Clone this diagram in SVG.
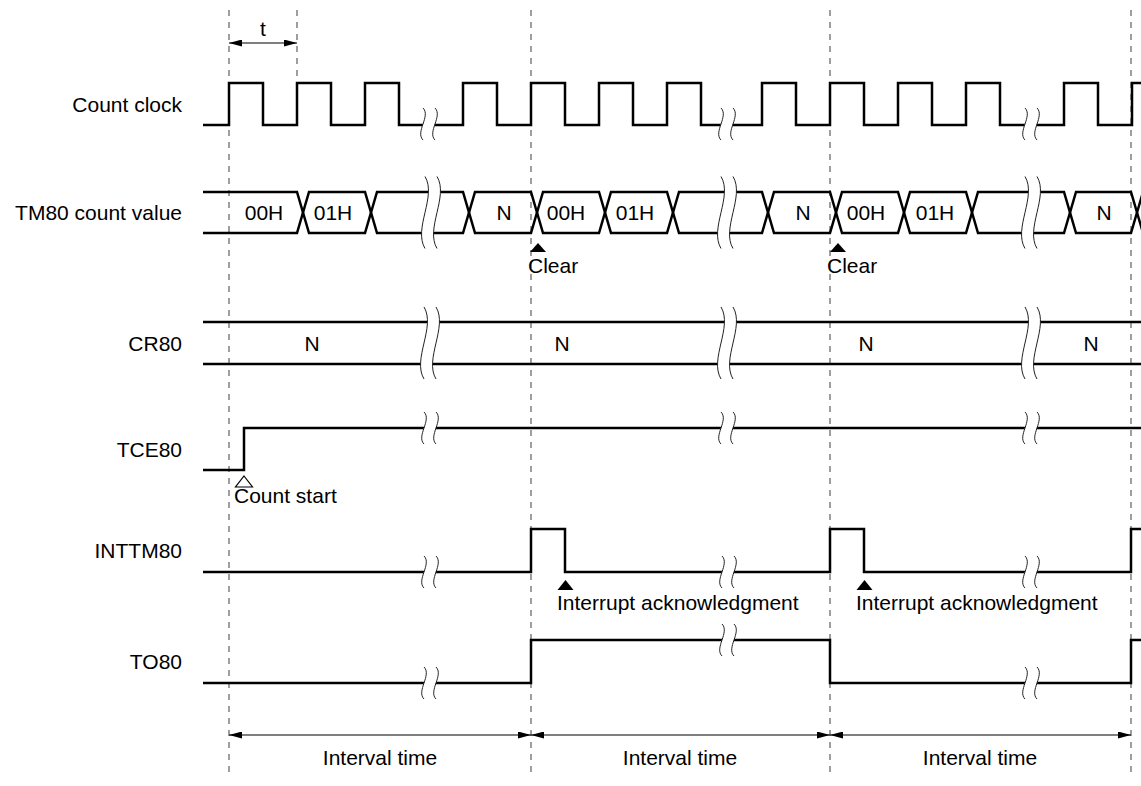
<svg xmlns="http://www.w3.org/2000/svg" xmlns:xlink="http://www.w3.org/1999/xlink" width="1141" height="786" viewBox="0 0 1141 786">
<style>
text{font-family:"Liberation Sans",Arial,Helvetica,sans-serif;font-size:21px;fill:#000}
.lbl{text-anchor:end}
.mid{text-anchor:middle}
.sig{fill:none;stroke:#000;stroke-width:2.5;stroke-linejoin:miter}
.dash{stroke:#6a6a6a;stroke-width:1.3;stroke-dasharray:6,6;fill:none}
.dim{stroke:#000;stroke-width:1.2;fill:none;marker-start:url(#ah);marker-end:url(#ah)}
.brkfill{fill:#fff;stroke:none}
.brkline{fill:none;stroke:#222;stroke-width:1}
.tri{fill:#000}
.otri{fill:#fff;stroke:#000;stroke-width:1.2}
</style>
<defs>
<marker id="ah" viewBox="0 0 13 7" refX="13" refY="3.5" markerWidth="13" markerHeight="7" markerUnits="userSpaceOnUse" orient="auto-start-reverse">
<path d="M0,0 L13,3.5 L0,7 Z" fill="#000"/>
</marker>
<g id="brkS">
<path class="brkfill" d="M-6,-16 C2,-8 -14,8 -6,16 L6,16 C-2,8 14,-8 6,-16 Z"/>
<path class="brkline" d="M-6,-16 C2,-8 -14,8 -6,16 M6,-16 C14,-8 -2,8 6,16"/>
</g>
<g id="brkL">
<path class="brkfill" d="M-6,-36 C6,-16 -18,16 -6,36 L6,36 C-6,16 18,-16 6,-36 Z"/>
<path class="brkline" d="M-6,-36 C6,-16 -18,16 -6,36 M6,-36 C18,-16 -6,16 6,36"/>
</g>
</defs>
<rect width="1141" height="786" fill="#fff"/>

<g id="connectors">
<line class="dash" x1="229" y1="10" x2="229" y2="775"/>
<line class="dash" x1="297" y1="10" x2="297" y2="82"/>
<line class="dash" x1="531" y1="10" x2="531" y2="775"/>
<line class="dash" x1="830" y1="10" x2="830" y2="775"/>
<line class="dash" x1="1131" y1="10" x2="1131" y2="775"/>
<line class="dim" x1="229" y1="43" x2="297" y2="43"/>
<line class="dim" x1="229" y1="735" x2="531" y2="735"/>
<line class="dim" x1="531" y1="735" x2="830" y2="735"/>
<line class="dim" x1="830" y1="735" x2="1131" y2="735"/>
</g>

<g id="dim-labels">
<text class="mid" x="263" y="36">t</text>
<text class="mid" x="380" y="765">Interval time</text>
<text class="mid" x="680" y="765">Interval time</text>
<text class="mid" x="980" y="765">Interval time</text>
</g>

<g id="count-clock">
<text class="lbl" x="182" y="111.5">Count clock</text>
<path class="sig" d="M203,125 H229 V83 H263 V125 H297 V83 H331 V125 H365 V83 H399 V125 H463 V83 H497 V125 H531 V83 H565 V125 H599 V83 H633 V125 H667 V83 H701 V125 H762 V83 H796 V125 H830 V83 H864 V125 H898 V83 H932 V125 H966 V83 H1000 V125 H1064 V83 H1098 V125 H1132 V83 H1143"/>
<use xlink:href="#brkS" x="429" y="124"/>
<use xlink:href="#brkS" x="727" y="124"/>
<use xlink:href="#brkS" x="1031" y="124"/>
</g>

<g id="tm80-count-value">
<text class="lbl" x="182" y="220">TM80 count value</text>
<path class="sig" d="M203,192 H297 L309,233 H365 L377,192 H463 L475,233 H531 L543,192 H599 L611,233 H667 L679,192 H762 L774,233 H830 L842,192 H898 L910,233 H966 L978,192 H1064 L1076,233 H1131 L1143,192"/>
<path class="sig" d="M203,233 H297 L309,192 H365 L377,233 H463 L475,192 H531 L543,233 H599 L611,192 H667 L679,233 H762 L774,192 H830 L842,233 H898 L910,192 H966 L978,233 H1064 L1076,192 H1131 L1143,233"/>
<use xlink:href="#brkL" x="431" y="212.5"/>
<use xlink:href="#brkL" x="727" y="212.5"/>
<use xlink:href="#brkL" x="1031" y="212.5"/>
<text class="mid" x="264" y="220">00H</text>
<text class="mid" x="333" y="220">01H</text>
<text class="mid" x="504" y="220">N</text>
<text class="mid" x="566" y="220">00H</text>
<text class="mid" x="635" y="220">01H</text>
<text class="mid" x="803" y="220">N</text>
<text class="mid" x="866" y="220">00H</text>
<text class="mid" x="935" y="220">01H</text>
<text class="mid" x="1104" y="220">N</text>
<path class="tri" d="M538,243 L546,252 L530,252 Z"/>
<text x="528" y="273">Clear</text>
<path class="tri" d="M838,243 L846,252 L830,252 Z"/>
<text x="827" y="273">Clear</text>
</g>

<g id="cr80">
<text class="lbl" x="182" y="350.5">CR80</text>
<path class="sig" d="M203,322 H1143 M203,364 H1143"/>
<use xlink:href="#brkL" x="430" y="343"/>
<use xlink:href="#brkL" x="727" y="343"/>
<use xlink:href="#brkL" x="1031" y="343"/>
<text class="mid" x="312" y="350.5">N</text>
<text class="mid" x="562" y="350.5">N</text>
<text class="mid" x="866" y="350.5">N</text>
<text class="mid" x="1091" y="350.5">N</text>
</g>

<g id="tce80">
<text class="lbl" x="182" y="456.5">TCE80</text>
<path class="sig" d="M203,470 H244 V428 H1143"/>
<use xlink:href="#brkS" x="430" y="428"/>
<use xlink:href="#brkS" x="727" y="428"/>
<use xlink:href="#brkS" x="1031" y="428"/>
<path class="otri" d="M244,476 L252.5,487 L235.5,487 Z"/>
<text x="234" y="503">Count start</text>
</g>

<g id="inttm80">
<text class="lbl" x="182" y="558">INTTM80</text>
<path class="sig" d="M203,572 H531 V529 H565 V572 H830 V529 H864 V572 H1131 V529 H1143"/>
<use xlink:href="#brkS" x="430" y="572"/>
<use xlink:href="#brkS" x="728" y="572"/>
<use xlink:href="#brkS" x="1031" y="572"/>
<path class="tri" d="M565.5,580 L573.5,590 L557.5,590 Z"/>
<text x="557" y="610">Interrupt acknowledgment</text>
<path class="tri" d="M864.5,580 L872.5,590 L856.5,590 Z"/>
<text x="856" y="610">Interrupt acknowledgment</text>
</g>

<g id="to80">
<text class="lbl" x="182" y="669">TO80</text>
<path class="sig" d="M203,683 H531 V640 H830 V683 H1131 V640 H1143"/>
<use xlink:href="#brkS" x="430" y="683"/>
<use xlink:href="#brkS" x="728" y="640"/>
<use xlink:href="#brkS" x="1031" y="683"/>
</g>
</svg>
